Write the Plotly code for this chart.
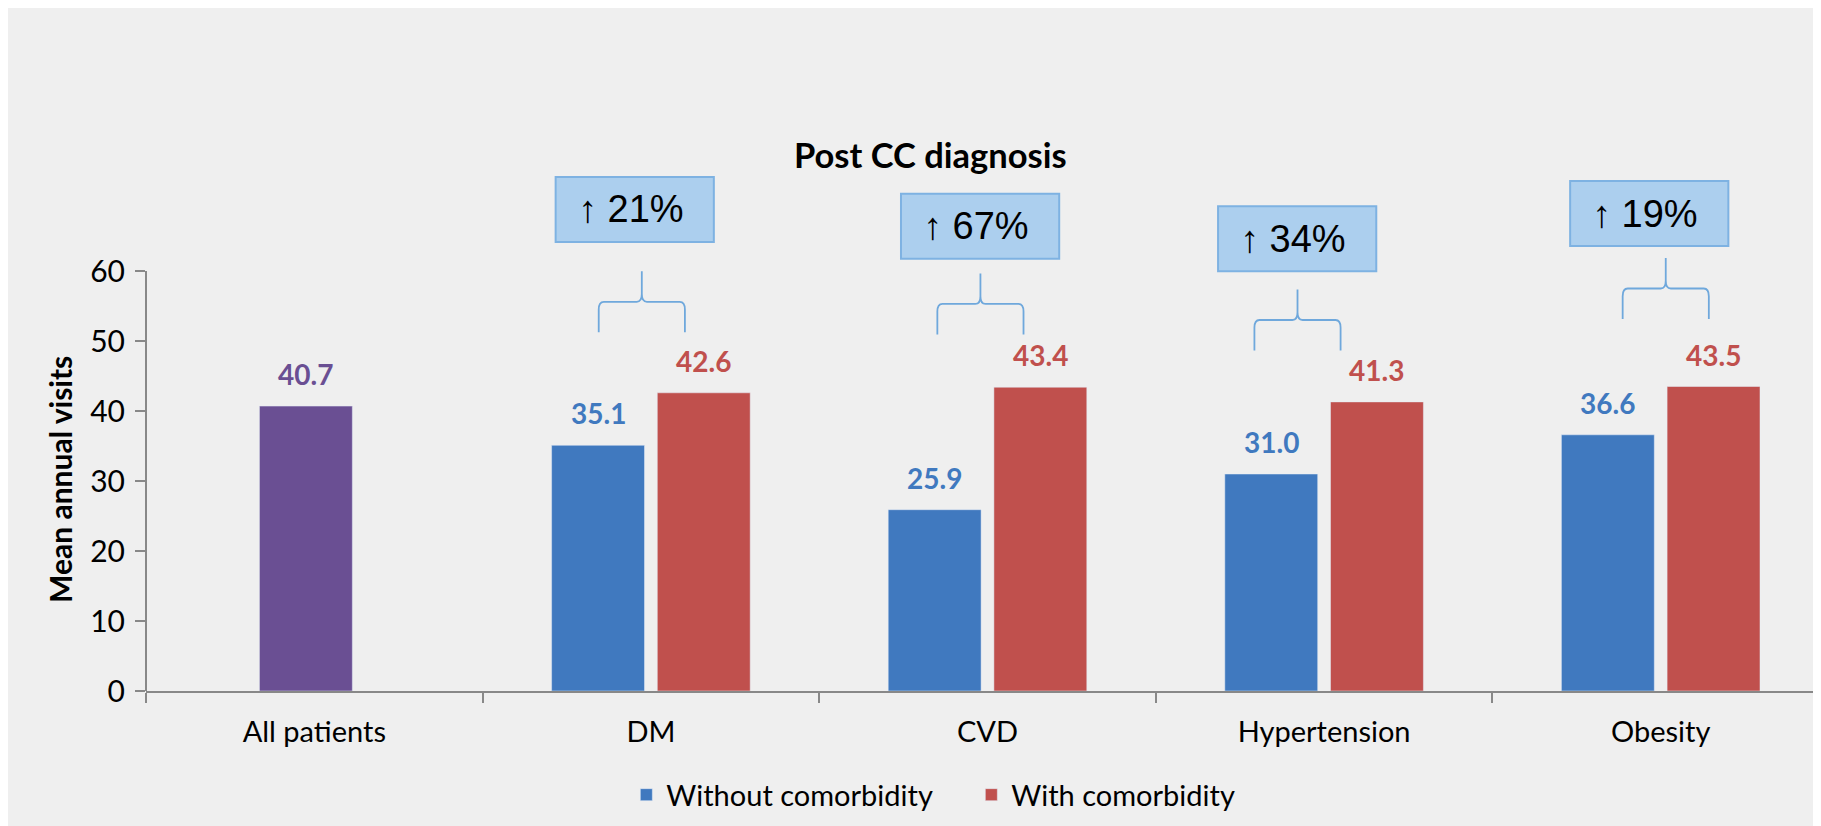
import plotly.graph_objects as go

# data
categories = ["All patients", "DM", "CVD", "Hypertension", "Obesity"]
all_patients = [40.7]
without_comorb = [35.1, 25.9, 31.0, 36.6]   # DM, CVD, Hypertension, Obesity
with_comorb = [42.6, 43.4, 41.3, 43.5]
increase_text = ["↑ 21%", "↑ 67%", "↑ 34%", "↑ 19%"]

# layout positions for the call-outs (axis units)
box_x = [0.952, 1.978, 2.920, 3.966]
box_y = [68.8, 66.4, 64.6, 68.2]
brace_x = [0.973, 1.979, 2.921, 4.015]
brace_y = [55.6, 55.3, 53.0, 57.5]

purple = "#6A4F93"
blue = "#4079BF"
red = "#C0504D"
bg = "#EFEFEF"
axis_col = "#888888"
font = "Lato, 'Open Sans', sans-serif"

bar_w = 0.276
pair_off = 0.157
purple_off = -0.025

fig = go.Figure()
fig.add_trace(go.Bar(x=[0], y=all_patients, width=bar_w, offset=purple_off - bar_w / 2,
                     marker_color=purple, showlegend=False, name="All patients"))
fig.add_trace(go.Bar(x=[1, 2, 3, 4], y=without_comorb, width=bar_w, offset=-pair_off - bar_w / 2,
                     marker_color=blue, name="Without comorbidity"))
fig.add_trace(go.Bar(x=[1, 2, 3, 4], y=with_comorb, width=bar_w, offset=pair_off - bar_w / 2,
                     marker_color=red, name="With comorbidity"))

# value labels
def value_label(x, y, color):
    fig.add_annotation(x=x, y=y, text="<b>%.1f</b>" % y, showarrow=False,
                       yanchor="bottom", yshift=13,
                       font=dict(family=font, size=28, color=color))

value_label(purple_off, all_patients[0], purple)
for i, v in enumerate(without_comorb):
    value_label(i + 1 - pair_off, v, blue)
for i, v in enumerate(with_comorb):
    value_label(i + 1 + pair_off, v, red)

# call-out boxes and braces
hw, hh = 0.235, 4.64
bw, bh, rx, ry = 0.128, 4.36, 0.015, 1.1
for i in range(4):
    cx, cy = box_x[i], box_y[i]
    fig.add_shape(type="rect", x0=cx - hw, x1=cx + hw, y0=cy - hh, y1=cy + hh,
                  fillcolor="#ACCFEE", line=dict(color="#7EB2E2", width=2))
    fig.add_annotation(x=cx - hw + 0.06, y=cy, text=increase_text[i], showarrow=False,
                       xanchor="left", yanchor="middle",
                       font=dict(family="'Liberation Sans', Arial, sans-serif", size=38, color="black"))
    c, h = brace_x[i], brace_y[i]
    path = (f"M{c-bw},{h-bh} L{c-bw},{h-ry} Q{c-bw},{h} {c-bw+rx},{h} "
            f"L{c-rx},{h} Q{c},{h} {c},{h+ry} L{c},{h+bh} "
            f"M{c},{h+ry} Q{c},{h} {c+rx},{h} L{c+bw-rx},{h} "
            f"Q{c+bw},{h} {c+bw},{h-ry} L{c+bw},{h-bh}")
    fig.add_shape(type="path", path=path, line=dict(color="#6FA8DC", width=1.8))

# title and y-axis title
fig.add_annotation(x=1.83, y=76.6, text="<b>Post CC diagnosis</b>", showarrow=False,
                   font=dict(family=font, size=34.5, color="black"))
fig.add_annotation(xref="paper", x=-0.0511, xanchor="center", y=30.3, yanchor="middle",
                   text="<b>Mean annual visits</b>", showarrow=False, textangle=-90,
                   font=dict(family=font, size=30, color="black"))

# y axis line (only up to 60)
fig.add_shape(type="line", xref="paper", x0=0, x1=0, yref="y", y0=0, y1=60,
              line=dict(color=axis_col, width=2))

fig.update_layout(
    width=1821, height=826,
    margin=dict(l=138, r=0, t=0, b=143),
    paper_bgcolor=bg, plot_bgcolor=bg,
    barmode="overlay",
    font=dict(family=font, size=28, color="black"),
    legend=dict(orientation="h", x=0.2854, xanchor="left", y=-0.152, yanchor="middle",
                font=dict(family=font, size=29, color="black"),
                bgcolor="rgba(0,0,0,0)", entrywidth=300, traceorder="normal"),
    xaxis=dict(range=[-0.5, 4.5], tickvals=[0, 1, 2, 3, 4], ticktext=categories,
               ticks="", ticklabelstandoff=14, showgrid=False, zeroline=False,
               showline=True, linecolor=axis_col, linewidth=2,
               tickfont=dict(family=font, size=29, color="black"),
               minor=dict(tickvals=[-0.5, 0.5, 1.5, 2.5, 3.5], ticks="outside", ticklen=10,
                          tickwidth=2, tickcolor=axis_col, showgrid=False)),
    yaxis=dict(range=[0, 683 / 7], tickvals=[0, 10, 20, 30, 40, 50, 60],
               ticks="outside", ticklen=10, tickwidth=2, tickcolor=axis_col,
               ticklabelstandoff=4, showgrid=False, zeroline=False, showline=False,
               tickfont=dict(family=font, size=30, color="black")),
)

fig.write_html("out.html")
